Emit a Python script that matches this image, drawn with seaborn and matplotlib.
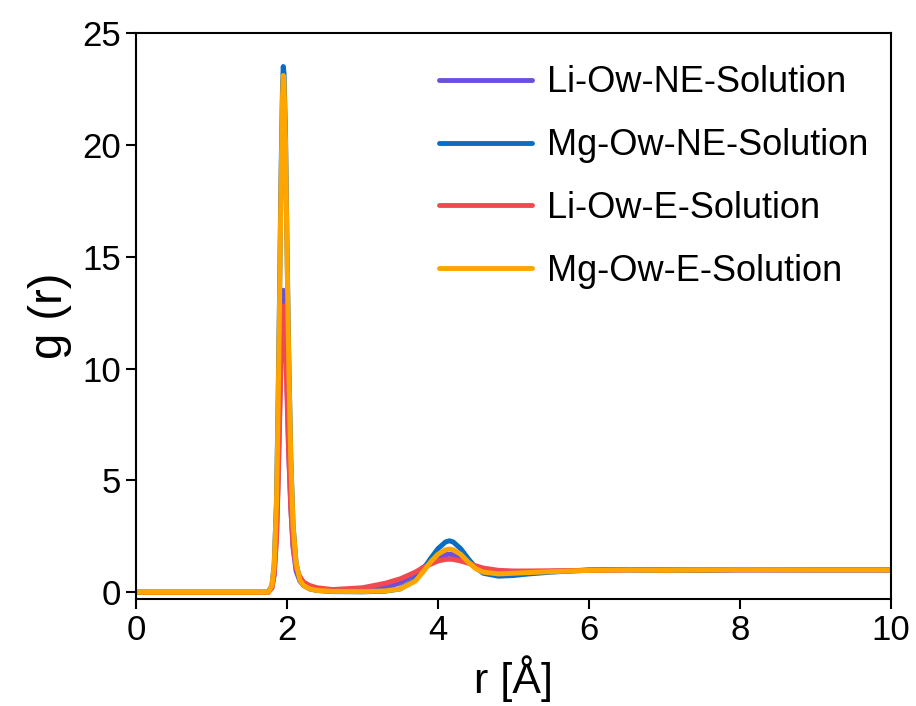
import numpy as np
import matplotlib
matplotlib.use("Agg")
import matplotlib.pyplot as plt
import pandas as pd
import seaborn as sns

# r grid (Angstrom) shared by all four g(r) curves
r = [0.0, 1.75, 1.80, 1.83, 1.86, 1.88, 1.90, 1.92, 1.94, 1.95, 1.96, 1.98,
     2.00, 2.02, 2.05, 2.08, 2.12, 2.17, 2.22, 2.30, 2.40, 2.60, 3.00, 3.30,
     3.50, 3.70, 3.80, 3.90, 4.00, 4.10, 4.15, 4.20, 4.30, 4.40, 4.50, 4.60,
     4.80, 5.00, 5.20, 5.50, 6.00, 6.50, 7.00, 7.50, 8.00, 9.00, 10.0]

li_ne = [0.0, 0.0, 0.2, 0.8, 2.5, 4.8, 7.7, 10.8, 13.0, 13.5, 13.3, 11.8,
         9.2, 6.6, 3.8, 2.0, 0.95, 0.5, 0.32, 0.2, 0.12, 0.07, 0.1, 0.22,
         0.42, 0.8, 1.1, 1.35, 1.55, 1.68, 1.7, 1.68, 1.55, 1.35, 1.15, 1.0,
         0.9, 0.88, 0.9, 0.93, 0.98, 1.0, 1.0, 0.99, 1.0, 1.0, 1.0]

mg_ne = [0.0, 0.0, 0.3, 1.2, 4.0, 8.0, 13.0, 18.5, 22.5, 23.5, 23.2, 20.5,
         15.5, 11.0, 6.0, 3.0, 1.3, 0.55, 0.3, 0.15, 0.08, 0.03, 0.02, 0.05,
         0.15, 0.55, 1.0, 1.5, 1.95, 2.25, 2.3, 2.25, 1.95, 1.5, 1.1, 0.85,
         0.72, 0.75, 0.82, 0.9, 1.0, 1.02, 0.97, 0.98, 1.02, 1.0, 1.0]

li_e = [0.0, 0.0, 0.2, 0.8, 2.4, 4.6, 7.4, 10.3, 12.3, 12.8, 12.6, 11.2,
        8.8, 6.4, 3.8, 2.1, 1.1, 0.7, 0.45, 0.3, 0.2, 0.12, 0.2, 0.4,
        0.6, 0.9, 1.1, 1.25, 1.4, 1.47, 1.48, 1.47, 1.4, 1.3, 1.18, 1.08,
        0.98, 0.95, 0.95, 0.96, 0.98, 1.0, 1.0, 1.0, 1.0, 1.0, 1.0]

mg_e = [0.0, 0.0, 0.3, 1.2, 3.9, 7.8, 12.7, 18.1, 22.1, 23.1, 22.8, 20.1,
        15.2, 10.8, 5.9, 3.0, 1.3, 0.55, 0.3, 0.15, 0.08, 0.04, 0.03, 0.06,
        0.15, 0.5, 0.9, 1.35, 1.7, 1.9, 1.93, 1.9, 1.7, 1.35, 1.05, 0.9,
        0.82, 0.85, 0.88, 0.92, 0.98, 1.0, 0.98, 0.99, 1.01, 1.0, 1.0]

labels = ["Li-Ow-NE-Solution", "Mg-Ow-NE-Solution",
          "Li-Ow-E-Solution", "Mg-Ow-E-Solution"]
colors = ["#6B50E0", "#0A6CC4", "#F04A50", "#FFA500"]

frames = []
for lab, g in zip(labels, [li_ne, mg_ne, li_e, mg_e]):
    frames.append(pd.DataFrame({"r": r, "g": g, "pair": lab}))
df = pd.concat(frames, ignore_index=True)

sns.set_style("ticks")
plt.rcParams["font.family"] = ["Liberation Sans", "DejaVu Sans"]
plt.rcParams["text.color"] = "black"
plt.rcParams["axes.labelcolor"] = "black"
plt.rcParams["xtick.color"] = "black"
plt.rcParams["ytick.color"] = "black"

fig = plt.figure(figsize=(9.16, 7.06), dpi=100)
ax = fig.add_axes([0.1485, 0.1516, 0.8242, 0.8017])

sns.lineplot(data=df, x="r", y="g", hue="pair", hue_order=labels,
             palette=colors, linewidth=3.6, ax=ax, sort=False)

ax.set_xlim(0, 10)
ax.set_ylim(-0.3, 25)
ax.set_xticks([0, 2, 4, 6, 8, 10])
ax.set_yticks([0, 5, 10, 15, 20, 25])
ax.tick_params(labelsize=25, width=1.5, length=7, direction="out", color="black",
               labelcolor="black")
ax.set_xlabel("r [Å]", fontsize=31, labelpad=6)
ax.set_ylabel("g (r)", fontsize=34, labelpad=8)
for s in ax.spines.values():
    s.set_linewidth(1.5)
    s.set_color("black")

leg = ax.legend(frameon=False, fontsize=26, loc="upper right",
                bbox_to_anchor=(1.013, 1.0), handlelength=2.6,
                labelspacing=0.77, handletextpad=0.4)
for h in leg.get_lines():
    h.set_linewidth(3.5)

fig.savefig("out.png", dpi=100)
